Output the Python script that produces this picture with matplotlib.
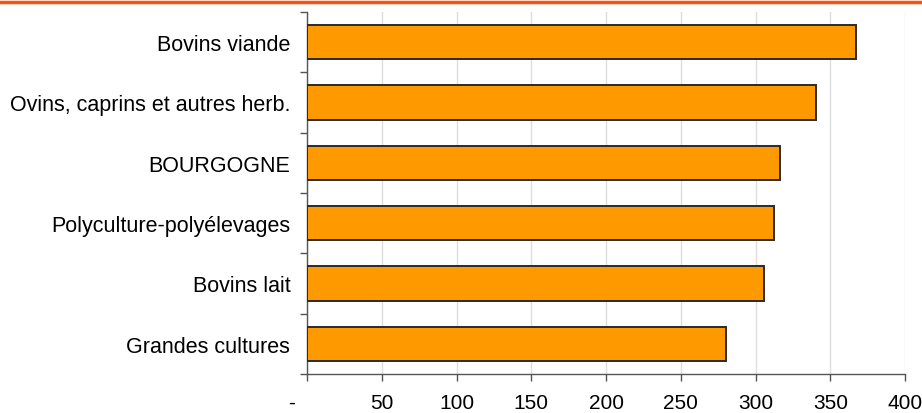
import matplotlib.pyplot as plt
import numpy as np
from matplotlib.lines import Line2D

categories = ['Bovins viande', 'Ovins, caprins et autres herb.', 'BOURGOGNE',
              'Polyculture-polyélevages', 'Bovins lait', 'Grandes cultures']
values = [367.4, 340.2, 316.6, 312.6, 305.9, 280.3]
xticks = [0, 50, 100, 150, 200, 250, 300, 350, 400]
xtick_labels = ['-     ', '50', '100', '150', '200', '250', '300', '350', '400']

plt.rcParams['font.family'] = ['Liberation Sans', 'DejaVu Sans']

fig = plt.figure(figsize=(9.22, 4.14), dpi=100)
ax = fig.add_axes([307 / 922, 39 / 414, 598 / 922, 362 / 414])

# top orange rule across the whole figure
fig.add_artist(Line2D([0, 1], [1 - 2.5 / 414, 1 - 2.5 / 414], color='#ff4e0f',
                      linewidth=2.5, transform=fig.transFigure))

y = np.arange(len(categories))
ax.barh(y, values, height=0.57, color='#ff9900', edgecolor='#2a2a2a',
        linewidth=1.4, zorder=3)

ax.set_xlim(0, 400)
ax.set_ylim(len(categories) - 0.5, -0.5)

ax.set_xticks(xticks)
ax.set_xticklabels(xtick_labels, fontsize=15)
ax.set_yticks(y)
ax.set_yticklabels(categories, fontsize=15.5)
ax.set_yticks(np.arange(len(categories) + 1) - 0.5, minor=True)

ax.tick_params(axis='x', length=5, width=1, color='#555555', pad=9)
ax.tick_params(axis='y', which='major', length=0, pad=12)
ax.tick_params(axis='y', which='minor', length=5, width=1, color='#555555')

ax.grid(axis='x', color='#dddddd', linewidth=1, zorder=0)
for side in ['top', 'right']:
    ax.spines[side].set_visible(False)
for side in ['left', 'bottom']:
    ax.spines[side].set_color('#555555')
    ax.spines[side].set_linewidth(1)

fig.savefig('out.png', dpi=100)
